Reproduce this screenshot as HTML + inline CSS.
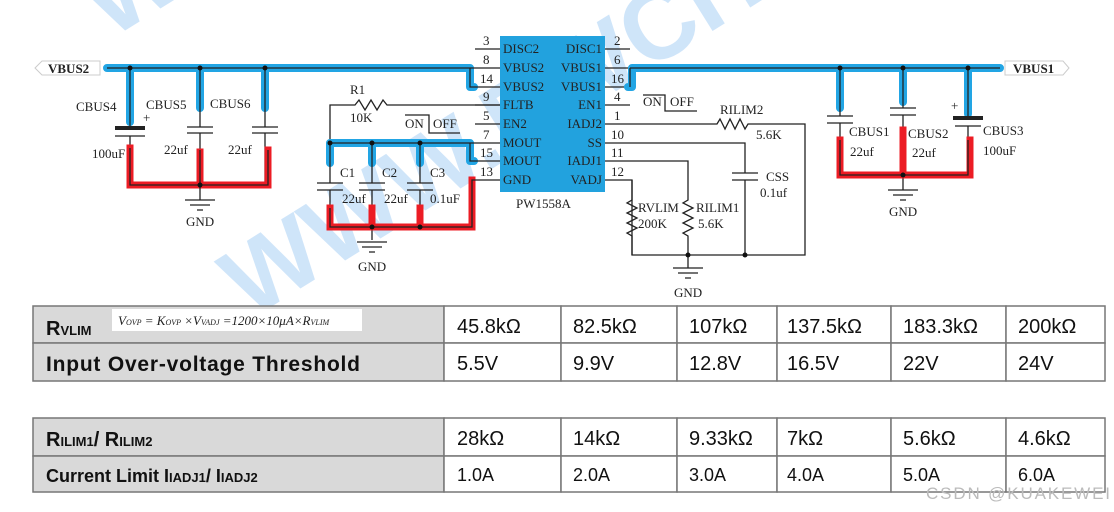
<!DOCTYPE html>
<html><head><meta charset="utf-8"><style>
html,body{margin:0;padding:0;background:#fff;}
svg{display:block;}
.s{font-family:"Liberation Serif",serif;font-size:13px;fill:#222;}
.w{fill:none;stroke:#222;stroke-width:1.3;}
.b{fill:none;stroke:#22a5e4;stroke-width:8;stroke-linecap:round;stroke-linejoin:round;}
.r{fill:none;stroke:#ec1c24;stroke-width:7;stroke-linecap:square;stroke-linejoin:miter;}
.t{font-family:"Liberation Sans",sans-serif;fill:#111;}
.cell{fill:#fff;stroke:#777;stroke-width:1.5;}
.hd{fill:#d9d9d9;stroke:#777;stroke-width:1.5;}
</style></head><body>
<svg width="1114" height="512" viewBox="0 0 1114 512" xmlns="http://www.w3.org/2000/svg">
<g opacity="0.22" fill="#2b8be8" font-family="Liberation Sans,sans-serif" font-weight="bold">
<text x="0" y="0" font-size="100" transform="translate(250,320) rotate(-32)">WWW.PWCHIP.CO</text>
<text x="0" y="0" font-size="100" transform="translate(110,40) rotate(-32)">W</text>
</g>
<polygon points="35,68 42,61 100,61 100,75 42,75" fill="#fff" stroke="#ccc"/>
<text x="48" y="73" class="s" font-weight="bold" font-size="12">VBUS2</text>
<path class="b" d="M107,68 H470 V87 H474"/>
<path class="b" d="M130,68 V122 M200,68 V108 M265,68 V108"/>
<path class="w" d="M107,68 H470 V87 H500 M470,68 H500 M130,68 V128 M200,68 V127 M265,68 V127"/>
<rect x="115" y="126" width="30" height="4" fill="#222"/>
<path class="w" d="M115,136 H145 M130,136 V185 M187,127 H213 M187,133 H213 M200,133 V185 M252,127 H278 M252,133 H278 M265,133 V185"/>
<text x="143" y="122" class="s" font-size="10">+</text>
<path class="r" d="M130,148 V185 H268 V150 M200,152 V185"/>
<path class="w" d="M130,148 V185 H268 V150 M200,150 V200"/>
<circle cx="130" cy="68" r="2.5" fill="#111"/><circle cx="200" cy="68" r="2.5" fill="#111"/><circle cx="265" cy="68" r="2.5" fill="#111"/><circle cx="200" cy="185" r="2.5" fill="#111"/>
<path class="w" d="M185,200 H215 M190,205 H210 M197,210 H203"/>
<text x="186" y="226" class="s" font-size="12">GND</text>
<text x="76" y="111" class="s">CBUS4</text><text x="146" y="109" class="s">CBUS5</text><text x="210" y="108" class="s">CBUS6</text>
<text x="92" y="158" class="s">100uF</text><text x="164" y="154" class="s">22uf</text><text x="228" y="154" class="s">22uf</text>
<text x="350" y="94" class="s">R1</text><text x="350" y="122" class="s">10K</text>
<path class="w" d="M330,143 V105 H355 l4,-5 l6,10 l6,-10 l6,10 l6,-10 l4,5 H500"/>
<text x="405" y="128" class="s">ON</text><text x="433" y="128" class="s">OFF</text>
<path class="w" d="M405,115 H429 V133 H460 M475,124 H500"/>
<path class="b" d="M330,143 H470 V161 H474 M330,143 V163 M372,143 V163 M420,143 V163"/>
<path class="w" d="M330,143 H470 V161 H500 M470,143 H500 M330,143 V183 M372,143 V183 M420,143 V183"/>
<path class="w" d="M317,183 H343 M317,190 H343 M359,183 H385 M359,190 H385 M407,183 H433 M407,190 H433 M330,190 V227 M372,190 V240 M420,190 V227"/>
<path class="r" d="M330,208 V227 H472 V180 M372,208 V227 M420,208 V227"/>
<path class="w" d="M330,208 V227 H472 V180 H500"/>
<circle cx="330" cy="143" r="2.5" fill="#111"/><circle cx="372" cy="143" r="2.5" fill="#111"/><circle cx="420" cy="143" r="2.5" fill="#111"/><circle cx="372" cy="227" r="2.5" fill="#111"/><circle cx="420" cy="227" r="2.5" fill="#111"/>
<path class="w" d="M357,242 H387 M362,247 H382 M369,252 H375"/>
<text x="358" y="271" class="s" font-size="12">GND</text>
<text x="340" y="177" class="s">C1</text><text x="382" y="177" class="s">C2</text><text x="430" y="177" class="s">C3</text>
<text x="342" y="203" class="s">22uf</text><text x="384" y="203" class="s">22uf</text><text x="430" y="203" class="s">0.1uF</text>
<rect x="500" y="36" width="105" height="156" fill="#22a2de"/>
<g class="s" font-size="12.5">
<path class="w" d="M475,49 H500 M475,105 H500 M605,49 H630 M605,68 H630 M605,87 H630 M605,105 H630 M605,124 H630 M605,143 H630 M605,161 H630 M605,180 H630"/>
<text x="483" y="45">3</text><text x="483" y="64">8</text><text x="480" y="83">14</text><text x="483" y="101">9</text><text x="483" y="120">5</text><text x="483" y="139">7</text><text x="480" y="157">15</text><text x="480" y="176">13</text>
<text x="614" y="45">2</text><text x="614" y="64">6</text><text x="611" y="83">16</text><text x="614" y="101">4</text><text x="614" y="120">1</text><text x="611" y="139">10</text><text x="611" y="157">11</text><text x="611" y="176">12</text>
<text x="503" y="53">DISC2</text><text x="503" y="72">VBUS2</text><text x="503" y="91">VBUS2</text><text x="503" y="109">FLTB</text><text x="503" y="128">EN2</text><text x="503" y="147">MOUT</text><text x="503" y="165">MOUT</text><text x="503" y="184">GND</text>
<g text-anchor="end"><text x="602" y="53">DISC1</text><text x="602" y="72">VBUS1</text><text x="602" y="91">VBUS1</text><text x="602" y="109">EN1</text><text x="602" y="128">IADJ2</text><text x="602" y="147">SS</text><text x="602" y="165">IADJ1</text><text x="602" y="184">VADJ</text></g>
</g>
<text x="516" y="208" class="s" font-size="14">PW1558A</text>
<path class="b" d="M632,68 H1000 M632,68 V87 H628 M840,68 V108 M903,68 V102 M968,68 V114"/>
<path class="w" d="M630,68 H1000 M630,68 V87 M840,68 V116 M903,68 V108 M968,68 V118"/>
<polygon points="1069,68 1063,61 1005,61 1005,75 1063,75" fill="#fff" stroke="#ccc"/>
<text x="1013" y="73" class="s" font-weight="bold" font-size="12">VBUS1</text>
<path class="w" d="M827,116 H853 M827,123 H853 M840,123 V175 M890,108 H916 M890,115 H916 M903,115 V190 M955,126 H981 M968,126 V175"/>
<rect x="953" y="116" width="30" height="4" fill="#222"/>
<text x="951" y="110" class="s" font-size="10">+</text>
<path class="r" d="M840,140 V175 H970 V140 M903,130 V175"/>
<path class="w" d="M840,140 V175 H968 V140"/>
<circle cx="840" cy="68" r="2.5" fill="#111"/><circle cx="903" cy="68" r="2.5" fill="#111"/><circle cx="968" cy="68" r="2.5" fill="#111"/><circle cx="903" cy="175" r="2.5" fill="#111"/>
<path class="w" d="M888,190 H918 M893,195 H913 M900,200 H906"/>
<text x="889" y="216" class="s" font-size="12">GND</text>
<text x="849" y="136" class="s">CBUS1</text><text x="850" y="156" class="s">22uf</text>
<text x="908" y="138" class="s">CBUS2</text><text x="912" y="157" class="s">22uf</text>
<text x="983" y="135" class="s" font-size="12">CBUS3</text><text x="983" y="155" class="s" font-size="12">100uF</text>
<text x="643" y="106" class="s">ON</text><text x="670" y="106" class="s">OFF</text>
<path class="w" d="M643,95 H665 V111 H697"/>
<text x="720" y="114" class="s">RILIM2</text><text x="756" y="139" class="s">5.6K</text>
<path class="w" d="M630,124 H717 l3,-5 l5,10 l5,-10 l5,10 l5,-10 l5,10 l3,-5 H805 V255 H632 V180 H630"/>
<path class="w" d="M630,143 H745 V173 M732,173 H758 M732,180 H758 M745,180 V255"/>
<text x="766" y="181" class="s">CSS</text><text x="760" y="197" class="s">0.1uf</text>
<path class="w" d="M630,161 H688 V200 l-5,3 l10,5 l-10,5 l10,5 l-10,5 l10,5 l-10,5 l5,3 V268"/>
<path class="w" d="M632,180 V200 l-5,3 l10,5 l-10,5 l10,5 l-10,5 l10,5 l-10,5 l5,3 V255"/>
<circle cx="688" cy="255" r="2.5" fill="#111"/><circle cx="745" cy="255" r="2.5" fill="#111"/>
<path class="w" d="M673,268 H703 M678,273 H698 M685,278 H691"/>
<text x="674" y="297" class="s" font-size="12">GND</text>
<text x="638" y="212" class="s">RVLIM</text><text x="638" y="228" class="s">200K</text>
<text x="696" y="212" class="s">RILIM1</text><text x="698" y="228" class="s">5.6K</text>
<rect class="hd" x="33" y="306" width="411" height="37"/><rect class="hd" x="33" y="343" width="411" height="38"/>
<rect class="cell" x="444" y="306" width="117" height="37"/><rect class="cell" x="561" y="306" width="116" height="37"/><rect class="cell" x="677" y="306" width="100" height="37"/><rect class="cell" x="777" y="306" width="114" height="37"/><rect class="cell" x="891" y="306" width="115" height="37"/><rect class="cell" x="1006" y="306" width="99" height="37"/>
<rect class="cell" x="444" y="343" width="117" height="38"/><rect class="cell" x="561" y="343" width="116" height="38"/><rect class="cell" x="677" y="343" width="100" height="38"/><rect class="cell" x="777" y="343" width="114" height="38"/><rect class="cell" x="891" y="343" width="115" height="38"/><rect class="cell" x="1006" y="343" width="99" height="38"/>
<rect x="112" y="309" width="250" height="22" fill="#fff"/>
<text x="118" y="325" font-family="Liberation Serif,serif" font-style="italic" font-size="13" fill="#222">V<tspan font-size="8">OVP</tspan> = K<tspan font-size="8">OVP</tspan> ×V<tspan font-size="8">VADJ</tspan> =1200×10μA×R<tspan font-size="8">VLIM</tspan></text>
<text x="46" y="335" class="t" font-size="20" font-weight="bold">R<tspan font-size="13">VLIM</tspan></text>
<text x="46" y="371" class="t" font-size="21" font-weight="bold" textLength="314">Input Over-voltage Threshold</text>
<g class="t" font-size="20" fill="#222">
<text x="457" y="333">45.8kΩ</text><text x="573" y="333">82.5kΩ</text><text x="689" y="333">107kΩ</text><text x="787" y="333">137.5kΩ</text><text x="903" y="333">183.3kΩ</text><text x="1018" y="333">200kΩ</text>
<text x="457" y="370">5.5V</text><text x="573" y="370">9.9V</text><text x="689" y="370">12.8V</text><text x="787" y="370">16.5V</text><text x="903" y="370">22V</text><text x="1018" y="370">24V</text>
</g>
<rect class="hd" x="33" y="418" width="411" height="38"/><rect class="hd" x="33" y="456" width="411" height="36"/>
<rect class="cell" x="444" y="418" width="117" height="38"/><rect class="cell" x="561" y="418" width="116" height="38"/><rect class="cell" x="677" y="418" width="100" height="38"/><rect class="cell" x="777" y="418" width="114" height="38"/><rect class="cell" x="891" y="418" width="115" height="38"/><rect class="cell" x="1006" y="418" width="99" height="38"/>
<rect class="cell" x="444" y="456" width="117" height="36"/><rect class="cell" x="561" y="456" width="116" height="36"/><rect class="cell" x="677" y="456" width="100" height="36"/><rect class="cell" x="777" y="456" width="114" height="36"/><rect class="cell" x="891" y="456" width="115" height="36"/><rect class="cell" x="1006" y="456" width="99" height="36"/>
<text x="46" y="446" class="t" font-size="20" font-weight="bold">R<tspan font-size="13">ILIM1</tspan>/ R<tspan font-size="13">ILIM2</tspan></text>
<text x="46" y="482" class="t" font-size="18" font-weight="bold">Current Limit I<tspan font-size="13">IADJ1</tspan>/ I<tspan font-size="13">IADJ2</tspan></text>
<g class="t" font-size="20" fill="#222">
<text x="457" y="445">28kΩ</text><text x="573" y="445">14kΩ</text><text x="689" y="445">9.33kΩ</text><text x="787" y="445">7kΩ</text><text x="903" y="445">5.6kΩ</text><text x="1018" y="445">4.6kΩ</text>
</g>
<g class="t" font-size="18" fill="#222">
<text x="457" y="481">1.0A</text><text x="573" y="481">2.0A</text><text x="689" y="481">3.0A</text><text x="787" y="481">4.0A</text><text x="903" y="481">5.0A</text><text x="1018" y="481">6.0A</text>
</g>
<text x="926" y="499" font-family="Liberation Sans,sans-serif" font-size="17" fill="#bbb" textLength="184">CSDN @KUAKEWEI</text>
</svg>
</body></html>
